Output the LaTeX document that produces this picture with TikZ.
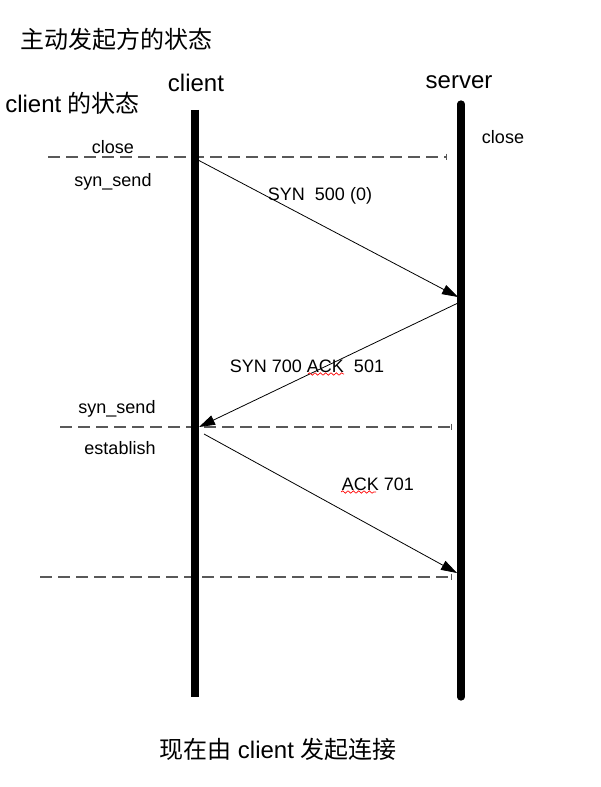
\documentclass[tikz,border=0pt]{standalone}
\usepackage{fontspec}
\setmainfont{Liberation Sans}
\newfontfamily\cjk{Noto Sans CJK SC}
\usetikzlibrary{arrows.meta,decorations.pathmorphing}
\tikzset{
  lifeline/.style={line width=5.4pt},
  statusline/.style={draw=black!65, line width=0.8pt, dash pattern=on 9pt off 4.5pt,
    -{Bar[width=5pt, line width=0.4pt]}},
  msgarrow/.style={-{Triangle[length=12pt, width=7.5pt]}, line width=0.6pt},
  biglabel/.style={font=\fontsize{18}{20}\selectfont, inner sep=0pt},
  smalllabel/.style={font=\fontsize{13.5}{16}\selectfont, inner sep=0pt},
  spellmark/.style={red, line width=0.5pt, decorate,
    decoration={snake, amplitude=0.9pt, segment length=4pt}},
}

\begin{document}
\begin{tikzpicture}[x=0.75pt, y=-0.75pt]
  \useasboundingbox (0,0) rectangle (600,787);
  % headings
  \node[biglabel, anchor=west] (title) at (20,39) {\cjk 主动发起方的状态};
  \node[biglabel, anchor=west] (cstate) at (5,103) {client {\cjk 的状态}};
  \node[biglabel] (chead) at (196,83) {client};
  \node[biglabel] (shead) at (459,82) {server};
  % lifelines
  \coordinate (cTop) at (195,110);
  \coordinate (cBot) at (195,697);
  \coordinate (sTop) at (461,104);
  \coordinate (sBot) at (461,697);
  % state lines
  \coordinate (d1a) at (48,157);  \coordinate (d1b) at (447,157);
  \coordinate (d2a) at (60,427);  \coordinate (d2b) at (452,427);
  \coordinate (d3a) at (40,577);  \coordinate (d3b) at (452,577);
  \foreach \d in {d1,d2,d3} \draw[statusline] (\d a) -- (\d b);
  \draw[lifeline] (cTop) -- (cBot);
  \draw[lifeline, line cap=round] (sTop) -- (sBot);
  % states
  \node[smalllabel] (cclose) at (113,147) {close};
  \node[smalllabel] (csend1) at (113,182) {syn\_send};
  \node[smalllabel] (sclose) at (503,137) {close};
  \node[smalllabel] (csend2) at (117,409) {syn\_send};
  \node[smalllabel] (cest) at (120,448) {establish};
  % messages
  \coordinate (m1a) at (198,160); \coordinate (m1b) at (458,297);
  \coordinate (m2a) at (458,303); \coordinate (m2b) at (199,427);
  \coordinate (m3a) at (204,434); \coordinate (m3b) at (457,573);
  \draw[msgarrow] (m1a) -- (m1b);
  \draw[msgarrow] (m2a) -- (m2b);
  \draw[msgarrow] (m3a) -- (m3b);
  \node[smalllabel] (syn) at (320,196) {SYN\ \ 500 (0)};
  \node[smalllabel] (synack) at (307,366) {SYN 700 ACK\ \ 501};
  \node[smalllabel] (ack) at (378,484) {ACK 701};
  \draw[spellmark] (308,374) -- (344,374);
  \draw[spellmark] (341,492) -- (376,492);
  % caption
  \node[biglabel] (caption) at (278,749) {{\cjk 现在由} client {\cjk 发起连接}};
\end{tikzpicture}
\end{document}
